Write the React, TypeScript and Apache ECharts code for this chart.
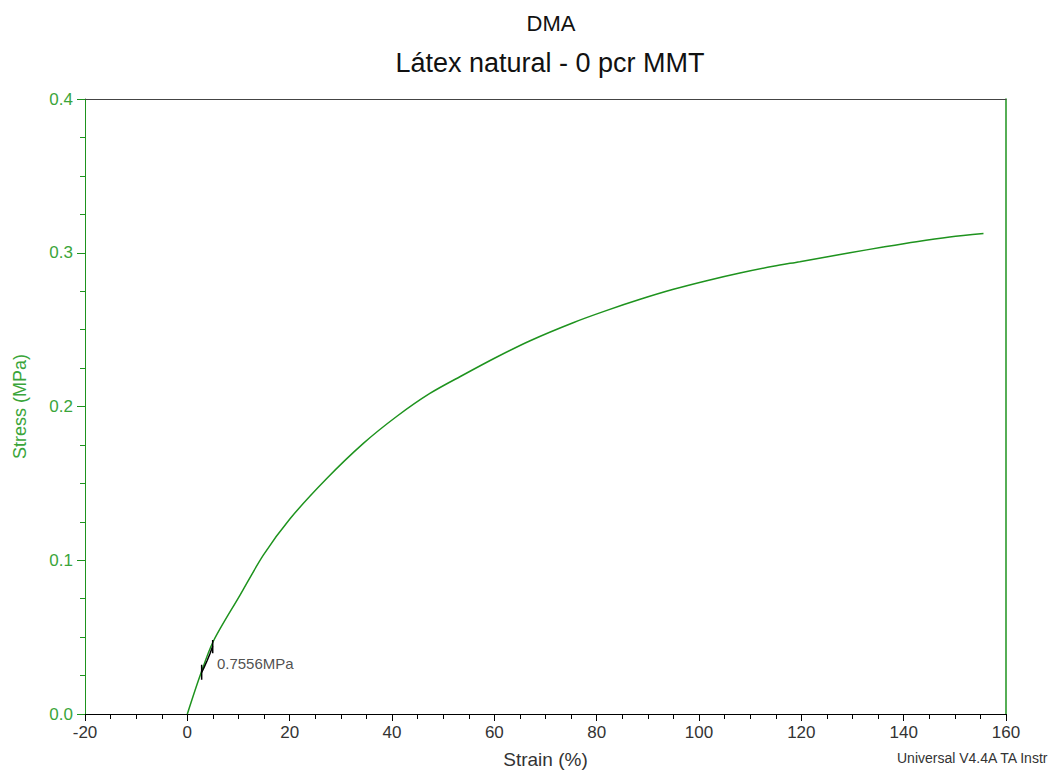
import React, { useEffect, useRef } from "react";
import * as echarts from "echarts";

const strain = [0, 2.5, 5.08, 10.3, 14.85, 20.07, 27.2, 34.4, 40.9, 47.4, 53.9, 60.5, 67.0, 75.4, 82.0, 88.5, 95.0, 101.5, 108.0, 114.5, 119.7, 129.5, 136.0, 142.5, 149.0, 155.6];
const stress = [0, 0.025, 0.0473, 0.0773, 0.1033, 0.127, 0.153, 0.176, 0.1935, 0.2085, 0.2205, 0.2322, 0.2428, 0.2545, 0.2625, 0.2697, 0.2762, 0.2818, 0.2868, 0.2912, 0.2942, 0.3, 0.3037, 0.3072, 0.3102, 0.3125];

const markStrain = [2.8, 3.3, 3.9, 4.4, 4.96];
const markStress = [0.027, 0.0305, 0.035, 0.039, 0.044];
const tick1Strain = [2.8, 2.8];
const tick1Stress = [0.0223, 0.032];
const tick2Strain = [4.96, 4.96];
const tick2Stress = [0.0395, 0.0482];
const annotationPos = [5.0, 0.033];
const annotationText = "0.7556MPa";

const xTickMin = -20;
const xTickMax = 160;
const xTickStep = 20;
const yTickMin = 0;
const yTickMax = 0.4;
const yTickStep = 0.1;

const FONT = "Liberation Sans, Arial, sans-serif";
const GREEN = "#1e931e";
const GREEN_TXT = "#3aa53a";
const DARK = "#333333";

export default function App() {
  const ref = useRef<HTMLDivElement>(null);
  useEffect(() => {
    if (!ref.current) return;
    const chart = echarts.init(ref.current, null, { renderer: "svg" });
    const curve = strain.map((s, i) => [s, stress[i]]);
    const mark = markStrain.map((s, i) => [s, markStress[i]]);
    const t1 = tick1Strain.map((s, i) => [s, tick1Stress[i]]);
    const t2 = tick2Strain.map((s, i) => [s, tick2Stress[i]]);
    chart.setOption({
      animation: false,
      backgroundColor: "#ffffff",
      textStyle: { fontFamily: FONT },
      title: [
        {
          text: "DMA",
          left: 546,
          top: 7,
          textAlign: "center",
          textStyle: { fontFamily: FONT, fontSize: 22, fontWeight: "normal", color: "#111" },
        },
        {
          text: "Látex natural - 0 pcr MMT",
          left: 545,
          top: 44,
          textAlign: "center",
          textStyle: { fontFamily: FONT, fontSize: 27, fontWeight: "normal", color: "#111" },
        },
      ],
      grid: { left: 85, right: 56, top: 99, bottom: 58, containLabel: false },
      xAxis: [
        {
          type: "value",
          min: xTickMin,
          max: xTickMax,
          interval: xTickStep,
          position: "bottom",
          name: "Strain (%)",
          nameLocation: "middle",
          nameGap: 36,
          nameTextStyle: { fontFamily: FONT, fontSize: 19, color: DARK },
          axisLine: { show: true, onZero: false, lineStyle: { color: "#000", width: 1 } },
          axisTick: { show: true, length: 7, lineStyle: { color: "#000" } },
          minorTick: { show: true, splitNumber: 4, length: 5, lineStyle: { color: "#000" } },
          axisLabel: { fontFamily: FONT, fontSize: 17, color: DARK, margin: 10 },
          splitLine: { show: false },
        },
        {
          type: "value",
          min: xTickMin,
          max: xTickMax,
          position: "top",
          axisLine: { show: true, onZero: false, lineStyle: { color: "#444", width: 1 } },
          axisTick: { show: false },
          axisLabel: { show: false },
          splitLine: { show: false },
        },
      ],
      yAxis: [
        {
          type: "value",
          min: yTickMin,
          max: yTickMax,
          interval: yTickStep,
          position: "left",
          name: "Stress (MPa)",
          nameLocation: "middle",
          nameGap: 56,
          nameTextStyle: { fontFamily: FONT, fontSize: 18, color: GREEN_TXT },
          axisLine: { show: true, onZero: false, lineStyle: { color: GREEN, width: 1 } },
          axisTick: { show: true, length: 8, lineStyle: { color: GREEN } },
          minorTick: { show: true, splitNumber: 4, length: 5, lineStyle: { color: GREEN } },
          axisLabel: {
            fontFamily: FONT,
            fontSize: 17,
            color: GREEN_TXT,
            margin: 12,
            formatter: (v: number) => v.toFixed(1),
          },
          splitLine: { show: false },
        },
        {
          type: "value",
          min: yTickMin,
          max: yTickMax,
          position: "right",
          axisLine: { show: true, onZero: false, lineStyle: { color: GREEN, width: 1.5 } },
          axisTick: { show: false },
          axisLabel: { show: false },
          splitLine: { show: false },
        },
      ],
      series: [
        {
          type: "line",
          data: curve,
          smooth: 0.3,
          showSymbol: false,
          lineStyle: { color: GREEN, width: 1.5 },
          z: 2,
        },
        {
          type: "line",
          data: mark,
          showSymbol: false,
          lineStyle: { color: "#000", width: 1.5 },
          z: 3,
        },
        {
          type: "line",
          data: t1,
          showSymbol: false,
          lineStyle: { color: "#000", width: 1.5 },
          z: 3,
        },
        {
          type: "line",
          data: t2,
          showSymbol: false,
          lineStyle: { color: "#000", width: 1.5 },
          z: 3,
        },
        {
          type: "scatter",
          data: [annotationPos],
          symbolSize: 0,
          silent: true,
          label: {
            show: true,
            position: "right",
            distance: 4,
            formatter: annotationText,
            fontFamily: FONT,
            fontSize: 15,
            color: "#222",
          },
          z: 4,
        },
      ],
      graphic: [
        {
          type: "text",
          left: 897,
          top: 751,
          style: {
            text: "Universal V4.4A TA Instr",
            fontFamily: FONT,
            fontSize: 14,
            fill: "#333",
          },
        },
      ],
    });
    return () => chart.dispose();
  }, []);
  return (
    <div
      ref={ref}
      style={{ position: "absolute", left: 0, top: 0, width: 1062, height: 774, background: "#fff" }}
    />
  );
}
